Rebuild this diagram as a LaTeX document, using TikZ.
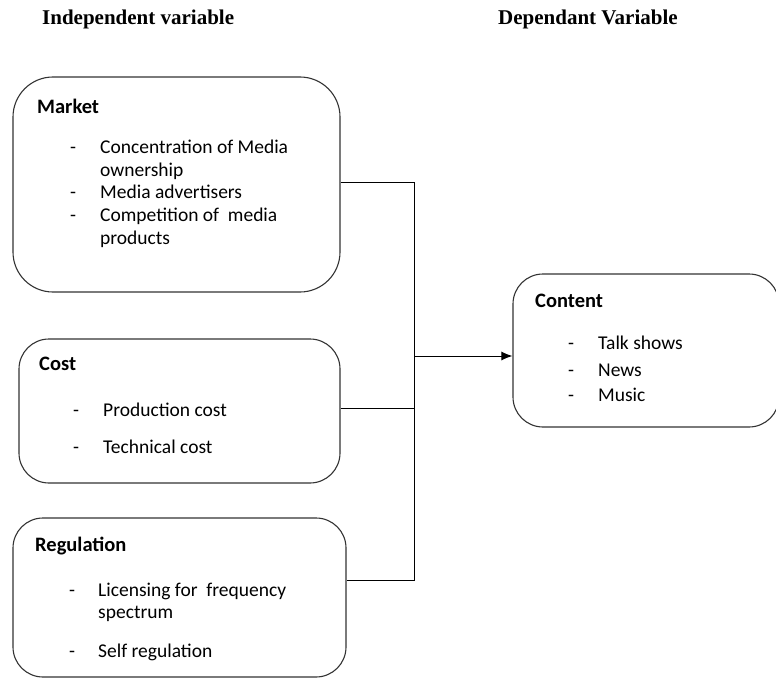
\documentclass[tikz,border=0pt]{standalone}
\usepackage{fontspec}
\setmainfont{Carlito}
\newfontfamily\titlefont{Liberation Serif}
\usetikzlibrary{arrows.meta}
\begin{document}
\begin{tikzpicture}[x=1pt,y=-1pt,
  box/.style={draw=black!80, line width=1.1pt, rectangle, inner sep=0pt},
  head/.style={anchor=base west, inner sep=0pt, font=\fontsize{20.5}{23}\selectfont\bfseries},
  item/.style={anchor=base west, inner sep=0pt, font=\fontsize{19.5}{23}\selectfont},
  ttl/.style={anchor=base west, inner sep=0pt, font=\titlefont\fontsize{21}{24}\selectfont\bfseries},
  conn/.style={draw=black, line width=1pt}]
\useasboundingbox (0,0) rectangle (776,677);
% titles
\node[ttl] (t1) at (42,25) {Independent variable};
\node[ttl] (t2) at (498,25) {Dependant Variable};
% boxes
\node[box, rounded corners=40pt, minimum width=327pt, minimum height=215pt] (market) at (176.5,184.5) {};
\node[box, rounded corners=30pt, minimum width=321pt, minimum height=144pt] (cost) at (179.5,411) {};
\node[box, rounded corners=30pt, minimum width=333pt, minimum height=159pt] (reg) at (179.5,597.5) {};
\node[box, rounded corners=30pt, minimum width=266pt, minimum height=153pt] (content) at (646,350.5) {};
% market text
\node[head] (mh) at (37,113) {Market};
\node[item] (md1) at (70,153) {-};
\node[item] (m1) at (100,153) {Concentration of Media};
\node[item] (m1b) at (100,176) {ownership};
\node[item] (md2) at (70,198) {-};
\node[item] (m2) at (100,198) {Media advertisers};
\node[item] (md3) at (70,221) {-};
\node[item] (m3) at (100,221) {Competition of\ \ media};
\node[item] (m3b) at (100,244) {products};
% cost text
\node[head] (ch) at (39,370) {Cost};
\node[item] (cd1) at (73,416) {-};
\node[item] (c1) at (103,416) {Production cost};
\node[item] (cd2) at (73,453) {-};
\node[item] (c2) at (103,453) {Technical cost};
% regulation text
\node[head] (rh) at (35,551) {Regulation};
\node[item] (rd1) at (69,596) {-};
\node[item] (r1) at (98,596) {Licensing for\ \ frequency};
\node[item] (r1b) at (98,618) {spectrum};
\node[item] (rd2) at (69,657) {-};
\node[item] (r2) at (98,657) {Self regulation};
% content text
\node[head] (coh) at (535,307) {Content};
\node[item] (cod1) at (568,349) {-};
\node[item] (co1) at (598,349) {Talk shows};
\node[item] (cod2) at (568,376) {-};
\node[item] (co2) at (598,376) {News};
\node[item] (cod3) at (568,401) {-};
\node[item] (co3) at (598,401) {Music};
% connectors
\coordinate (j1) at (414,182);
\coordinate (j2) at (414,580);
\coordinate (j3) at (414,408);
\coordinate (ja) at (414,356);
\draw[conn] (market.east |- j1) -- (j1) -- (j2) -- (reg.east |- j2);
\draw[conn] (cost.east |- j3) -- (j3);
\draw[conn, -{Latex[length=11pt,width=9pt]}] (ja) -- (content.west |- ja);
\end{tikzpicture}
\end{document}
